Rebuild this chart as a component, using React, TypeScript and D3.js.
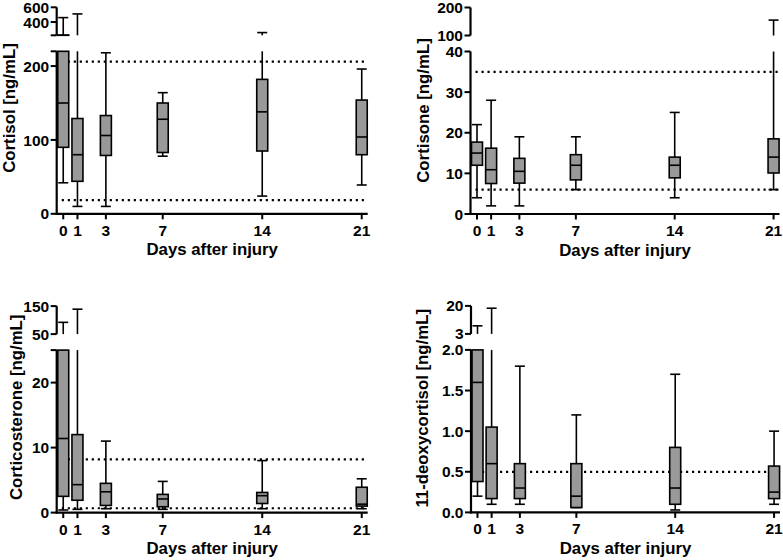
import React from 'react';
import * as d3 from 'd3';

// days after injury
const days = [0, 1, 3, 7, 14, 21];

// five-number summaries per day: [min, q1, median, q3, max]
const cortisol = [
  [42, 90, 150, 225, 460],
  [10, 44, 80, 129, 510],
  [10, 79, 106, 133, 218],
  [78, 83, 128, 150, 164],
  [24, 85, 138, 182, 257],
  [39, 80, 104, 154, 196],
];
const cortisone = [
  [4, 12, 15, 17.7, 22],
  [2, 7.5, 10.9, 16.2, 28],
  [2, 7.6, 10.5, 13.7, 19],
  [6, 8.4, 12, 14.6, 19],
  [4, 8.9, 12, 14, 25],
  [6, 10.1, 14, 18.5, 155],
];
const corticosterone = [
  [0.4, 2.5, 11.4, 30, 92],
  [0.5, 1.9, 4.3, 12, 139],
  [0.6, 1.1, 3.2, 4.5, 11],
  [0.5, 0.9, 2.1, 2.8, 4.8],
  [0.6, 1.4, 2.6, 3.1, 8],
  [0.6, 1.0, 1.3, 3.9, 5.2],
];
const deoxycortisol = [
  [0.2, 0.38, 1.6, 2.5, 7.9],
  [0.1, 0.17, 0.6, 1.05, 18.6],
  [0.1, 0.17, 0.3, 0.6, 1.8],
  [0.06, 0.06, 0.2, 0.6, 1.2],
  [0.03, 0.1, 0.3, 0.8, 1.7],
  [0.1, 0.17, 0.25, 0.57, 1.0],
];

// reference range (dotted lines)
const cortisolRefs = [18.4, 206];
const cortisoneRefs = [6, 35];
const corticosteroneRefs = [0.67, 8.2];
const deoxycortisolRefs = [0.5];

const FONT = '"Liberation Sans", Arial, Helvetica, sans-serif';
const LOWER_H = 162.5;
const GAP = 16;
const UPPER_H = 28;
const BOX_W = 11;
const CAP_W = 10;
const FILL = '#999999';

type Stat = number[];

interface PanelProps {
  x0: number;
  width: number;
  base: number;
  title: string;
  titleOffset: number;
  titleY: number;
  stats: Stat[];
  refs: number[];
  lowerDomain: [number, number];
  upperDomain: [number, number];
  lowerTicks: number[];
  upperTicks: number[];
  fmt: (v: number) => string;
}

const Panel: React.FC<PanelProps> = ({
  x0, width, base, title, titleOffset, titleY, stats, refs,
  lowerDomain, upperDomain, lowerTicks, upperTicks, fmt,
}) => {
  const x = d3.scaleLinear().domain([-0.46, 21.42]).range([x0, x0 + width]);
  const lowerTop = base - LOWER_H;
  const upperBottom = lowerTop - GAP;
  const lower = d3.scaleLinear().domain(lowerDomain).range([base, lowerTop]);
  const upper = d3.scaleLinear().domain(upperDomain).range([upperBottom, upperBottom - UPPER_H]);

  const segments = [
    { y: lower, lo: lowerDomain[0], hi: lowerDomain[1], prevHi: null as number | null, ticks: lowerTicks },
    { y: upper, lo: upperDomain[0], hi: upperDomain[1], prevHi: lowerDomain[1], ticks: upperTicks },
  ];

  const clamp = (v: number, lo: number, hi: number) => Math.max(lo, Math.min(hi, v));

  const marks: React.ReactNode[] = [];
  segments.forEach((seg, si) => {
    stats.forEach((s, i) => {
      const [mn, q1, med, q3, mx] = s;
      const cx = x(days[i]);
      const key = `${si}-${i}`;
      // whiskers, cut at the axis break
      const whisk = (a: number, b: number, capAt: number, k: string) => {
        if (b < seg.lo || a > seg.hi) return;
        const a2 = clamp(a, seg.lo, seg.hi);
        const b2 = clamp(b, seg.lo, seg.hi);
        marks.push(
          <line key={`w${k}${key}`} x1={cx} x2={cx} y1={seg.y(a2)} y2={seg.y(b2)} stroke="#000" strokeWidth={1.6} />
        );
        if (capAt >= seg.lo && capAt <= seg.hi) {
          marks.push(
            <line key={`c${k}${key}`} x1={cx - CAP_W / 2} x2={cx + CAP_W / 2} y1={seg.y(capAt)} y2={seg.y(capAt)} stroke="#000" strokeWidth={1.6} />
          );
        }
      };
      whisk(q3, mx, mx, 'u');
      whisk(mn, q1, mn, 'l');
      // box
      const overlaps = q3 >= seg.lo && q1 <= seg.hi;
      const spills = seg.prevHi !== null && q3 > seg.prevHi;
      if (overlaps || spills) {
        const t = seg.y(clamp(q3, seg.lo, seg.hi));
        const b = seg.y(clamp(q1, seg.lo, seg.hi));
        marks.push(
          <rect key={`b${key}`} x={cx - BOX_W / 2} y={t} width={BOX_W} height={Math.max(0, b - t)}
            fill={FILL} stroke="#000" strokeWidth={1.6} />
        );
        if (med >= seg.lo && med <= seg.hi) {
          marks.push(
            <line key={`m${key}`} x1={cx - BOX_W / 2} x2={cx + BOX_W / 2} y1={seg.y(med)} y2={seg.y(med)} stroke="#000" strokeWidth={1.6} />
          );
        }
      }
    });
  });

  const xEnd = x0 + width;

  return (
    <g fontFamily={FONT} fontWeight="bold">
      {/* reference range */}
      {refs.map((r) => (
        <line key={`r${r}`} x1={x(0) - 1.5} x2={xEnd} y1={lower(r)} y2={lower(r)}
          stroke="#000" strokeWidth={2.2} strokeDasharray="2.2 3.8" />
      ))}

      {marks}

      {/* y axis segments */}
      {segments.map((seg, si) => {
        const endTicks = [seg.lo, seg.hi].filter((v) => !seg.ticks.includes(v));
        return (
          <g key={`ax${si}`}>
            <line x1={x0} x2={x0} y1={seg.y(seg.lo) + (si === 0 ? 1 : 0)} y2={seg.y(seg.hi)} stroke="#000" strokeWidth={2.2} />
            {endTicks.map((v) => (
              <line key={`e${v}`} x1={x0 - 6} x2={x0} y1={seg.y(v)} y2={seg.y(v)} stroke="#000" strokeWidth={2} />
            ))}
            {seg.ticks.map((v) => (
              <g key={`t${v}`}>
                <line x1={x0 - 6} x2={x0} y1={seg.y(v)} y2={seg.y(v)} stroke="#000" strokeWidth={2} />
                <text x={x0 - 7.5} y={seg.y(v)} dy="0.36em" textAnchor="end" fontSize={15.5}>{fmt(v)}</text>
              </g>
            ))}
          </g>
        );
      })}

      {/* x axis */}
      <line x1={x0 - 1.1} x2={xEnd} y1={base} y2={base} stroke="#000" strokeWidth={2.2} />
      {days.map((d) => (
        <g key={`x${d}`}>
          <line x1={x(d)} x2={x(d)} y1={base} y2={base + 5.5} stroke="#000" strokeWidth={2} />
          <text x={x(d)} y={base + 22} textAnchor="middle" fontSize={15.5}>{d}</text>
        </g>
      ))}
      <text x={(x0 + xEnd) / 2} y={base + 41.5} textAnchor="middle" fontSize={16.8}>Days after injury</text>

      <text transform={`translate(${x0 - titleOffset},${titleY}) rotate(-90)`} textAnchor="middle" fontSize={16.8}>
        {title}
      </text>
    </g>
  );
};

const plain = (v: number) => String(v);
const oneDecimal = d3.format('.1f');

export default function App() {
  return (
    <svg width={783} height={560} style={{ position: 'absolute', left: 0, top: 0, background: '#fff' }}>
      <rect width={783} height={560} fill="#fff" />
      <Panel
        x0={56.7} width={311} base={213.8} title="Cortisol [ng/mL]" titleOffset={41.7} titleY={108}
        stats={cortisol} refs={cortisolRefs}
        lowerDomain={[0, 220]} upperDomain={[220, 600]}
        lowerTicks={[0, 100, 200]} upperTicks={[400, 600]} fmt={plain}
      />
      <Panel
        x0={470.5} width={309} base={214} title="Cortisone [ng/mL]" titleOffset={42} titleY={110.5}
        stats={cortisone} refs={cortisoneRefs}
        lowerDomain={[0, 40]} upperDomain={[100, 200]}
        lowerTicks={[0, 10, 20, 30, 40]} upperTicks={[100, 200]} fmt={plain}
      />
      <Panel
        x0={56.7} width={311} base={512.6} title="Corticosterone [ng/mL]" titleOffset={34.7} titleY={407.3}
        stats={corticosterone} refs={corticosteroneRefs}
        lowerDomain={[0, 25]} upperDomain={[50, 150]}
        lowerTicks={[0, 10, 20]} upperTicks={[50, 150]} fmt={plain}
      />
      <Panel
        x0={471} width={309} base={512.4} title="11-deoxycortisol [ng/mL]" titleOffset={43} titleY={408.3}
        stats={deoxycortisol} refs={deoxycortisolRefs}
        lowerDomain={[0, 2]} upperDomain={[3, 20]}
        lowerTicks={[0, 0.5, 1, 1.5, 2]} upperTicks={[3, 20]}
        fmt={(v) => (v <= 2 ? oneDecimal(v) : String(v))}
      />
    </svg>
  );
}
